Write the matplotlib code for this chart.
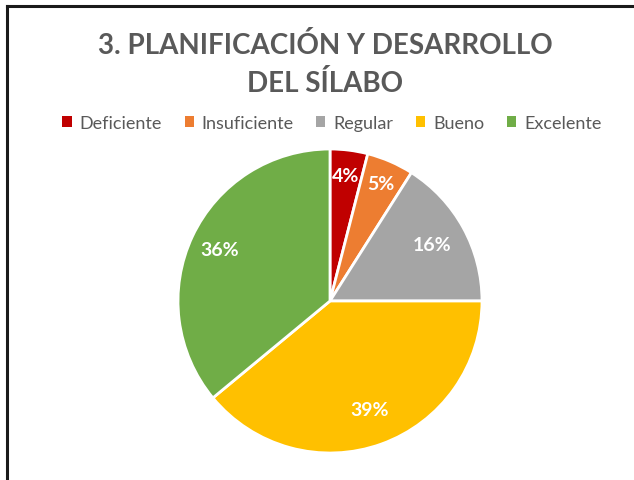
import numpy as np
import matplotlib.pyplot as plt
from matplotlib.patches import Patch
from matplotlib.lines import Line2D

categorias = ['Deficiente', 'Insuficiente', 'Regular', 'Bueno', 'Excelente']
porcentajes = [4, 5, 16, 39, 36]
colores = ['#C00000', '#ED7D31', '#A5A5A5', '#FFC000', '#70AD47']
titulo = '3. PLANIFICACIÓN Y DESARROLLO\nDEL SÍLABO'

# distancia de cada etiqueta al centro (fraccion del radio)
dist_etiqueta = [0.83, 0.84, 0.77, 0.76, 0.8]

W, H = 634, 481
fig = plt.figure(figsize=(W / 100, H / 100), dpi=100)

# marco recortado (solo arriba e izquierda)
fig.add_artist(Line2D([6.5 / W, 1], [1 - 7 / H, 1 - 7 / H], color='#1a1a1a', lw=2.2, transform=fig.transFigure))
fig.add_artist(Line2D([6.5 / W, 6.5 / W], [0, 1 - 7 / H], color='#1a1a1a', lw=2.2, transform=fig.transFigure))

fig.text(325 / W, 1 - 65 / H, titulo, ha='center', va='center', fontsize=20, fontweight='bold',
         color='#595959', family='Lato', linespacing=1.5)

# pastel
cx, cy, r = 330, 302, 152
ax = fig.add_axes([(cx - r) / W, (H - cy - r) / H, 2 * r / W, 2 * r / H])
wedges, texts = ax.pie(porcentajes, colors=colores, startangle=90, counterclock=False,
                       wedgeprops=dict(edgecolor='white', linewidth=2))
for w, p, d in zip(wedges, porcentajes, dist_etiqueta):
    ang = np.deg2rad((w.theta1 + w.theta2) / 2)
    ax.text(d * np.cos(ang), d * np.sin(ang), f'{p}%', ha='center', va='center',
            color='white', fontsize=14, fontweight='bold', family='Lato')
ax.set_xlim(-1, 1)
ax.set_ylim(-1, 1)
ax.set_aspect('equal')

handles = [Patch(facecolor=c, edgecolor='none') for c in colores]
leg = fig.legend(handles, categorias, loc='center', bbox_to_anchor=(332 / W, 1 - 124 / H), ncol=5,
                 frameon=False, handlelength=0.5, handleheight=0.5, handletextpad=0.45,
                 columnspacing=1.25, prop={'family': 'Lato', 'size': 13})
for t in leg.get_texts():
    t.set_color('#595959')

fig.savefig('out.png', dpi=100)
